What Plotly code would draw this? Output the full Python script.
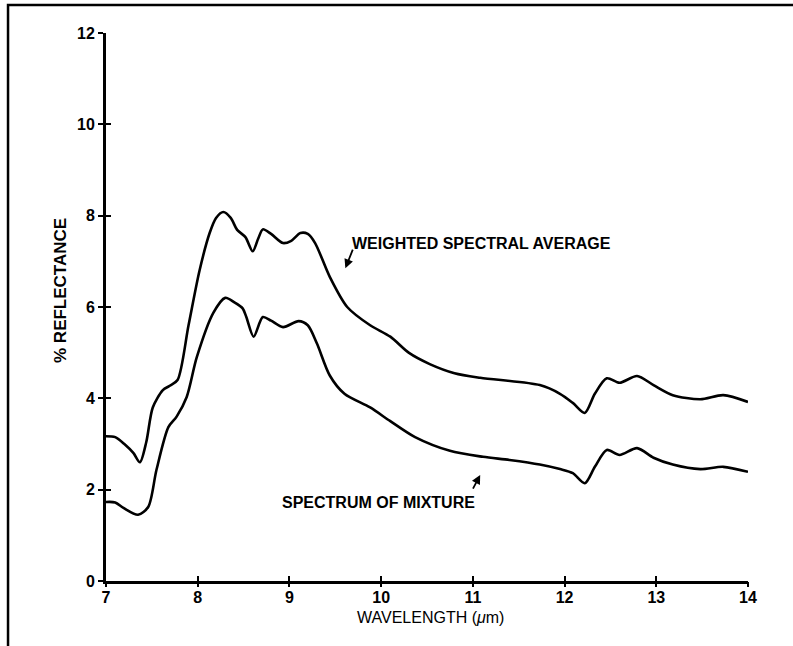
import plotly.graph_objects as go

# Weighted spectral average (upper curve)
wsa_x = [7.0, 7.1, 7.2, 7.3, 7.37, 7.44, 7.51, 7.62, 7.7, 7.78, 7.9, 8.02, 8.13, 8.2, 8.28, 8.36, 8.43, 8.52, 8.6,
         8.66, 8.71, 8.8, 8.93, 9.02, 9.12, 9.2, 9.28, 9.44, 9.63, 9.88, 10.1, 10.3, 10.53, 10.8, 11.08, 11.73,
         11.95, 12.09, 12.22, 12.33, 12.46, 12.6, 12.79, 12.97, 13.18, 13.48, 13.73, 14.0]
wsa_y = [3.17, 3.15, 3.0, 2.8, 2.6, 3.05, 3.8, 4.18, 4.28, 4.4, 5.6, 6.8, 7.62, 7.95, 8.08, 7.95, 7.69, 7.53, 7.22,
         7.5, 7.7, 7.6, 7.4, 7.45, 7.62, 7.6, 7.4, 6.66, 6.0, 5.6, 5.35, 5.0, 4.75, 4.55, 4.45, 4.29,
         4.1, 3.9, 3.68, 4.1, 4.44, 4.34, 4.49, 4.29, 4.07, 3.98, 4.07, 3.92]

# Spectrum of mixture (lower curve)
som_x = [7.0, 7.1, 7.19, 7.35, 7.46, 7.55, 7.68, 7.77, 7.88, 7.99, 8.17, 8.3, 8.4, 8.49, 8.53, 8.61, 8.71,
         8.8, 8.93, 9.1, 9.2, 9.3, 9.44, 9.6, 9.88, 10.1, 10.37, 10.75, 11.11, 11.4, 11.73, 11.95, 12.09, 12.22,
         12.33, 12.46, 12.6, 12.79, 12.97, 13.18, 13.48, 13.73, 14.0]
som_y = [1.73, 1.72, 1.6, 1.45, 1.62, 2.43, 3.37, 3.6, 4.03, 4.9, 5.87, 6.2, 6.1, 5.97, 5.78, 5.35, 5.78,
         5.7, 5.56, 5.69, 5.6, 5.2, 4.5, 4.1, 3.8, 3.5, 3.15, 2.85, 2.72, 2.65, 2.55, 2.45, 2.36, 2.14,
         2.5, 2.87, 2.76, 2.91, 2.7, 2.55, 2.45, 2.5, 2.39]

x_ticks = [7, 8, 9, 10, 11, 12, 13, 14]
y_ticks = [0, 2, 4, 6, 8, 10, 12]

FONT = "Liberation Sans"

fig = go.Figure()
for xs, ys in [(wsa_x, wsa_y), (som_x, som_y)]:
    fig.add_trace(go.Scatter(x=xs, y=ys, mode="lines",
                             line=dict(color="black", width=2.6, shape="spline", smoothing=0.8),
                             showlegend=False, hoverinfo="skip"))

fig.update_layout(
    width=793, height=646,
    margin=dict(l=106, r=45, t=33, b=65),
    paper_bgcolor="white", plot_bgcolor="white",
    xaxis=dict(range=[7, 14], tickvals=x_ticks, ticktext=[str(v) for v in x_ticks],
               tickfont=dict(family=FONT, size=16, color="black", weight="bold"),
               showgrid=False, zeroline=False, showline=True, linecolor="black", linewidth=3,
               ticks="inside", ticklen=5, tickwidth=2, tickcolor="black"),
    yaxis=dict(range=[0, 12], tickvals=y_ticks, ticktext=[str(v) for v in y_ticks],
               tickfont=dict(family=FONT, size=16, color="black", weight="bold"),
               showgrid=False, zeroline=False, showline=True, linecolor="black", linewidth=3,
               ticks="outside", ticklen=5, tickwidth=2, tickcolor="black"),
    xaxis2=dict(range=[7, 14], overlaying="x", tickvals=x_ticks, showticklabels=False, ticks="outside",
                ticklen=5, tickwidth=2, tickcolor="black", showgrid=False, zeroline=False, showline=False,
                anchor="y"),
    yaxis2=dict(range=[0, 12], overlaying="y", tickvals=y_ticks, showticklabels=False, ticks="inside",
                ticklen=5, tickwidth=2, tickcolor="black", showgrid=False, zeroline=False, showline=False,
                anchor="x", side="left"),
    shapes=[dict(type="rect", xref="paper", yref="paper", x0=-0.1526, x1=1.11, y0=-0.14, y1=1.051,
                 line=dict(color="black", width=2.5), fillcolor="rgba(0,0,0,0)", layer="below")],
    annotations=[
        dict(x=0.506, y=-0.0675, xref="paper", yref="paper", text="WAVELENGTH (<i>μ</i>m)", showarrow=False,
             xanchor="center", yanchor="middle", font=dict(family=FONT, size=16, color="black")),
        dict(x=-0.0717, y=0.531, xref="paper", yref="paper", text="% REFLECTANCE", showarrow=False,
             textangle=-90, xanchor="center", yanchor="middle",
             font=dict(family=FONT, size=17, color="black", weight="bold")),
        dict(x=9.66, y=7.4, xref="x", yref="y", text="WEIGHTED SPECTRAL AVERAGE", showarrow=False,
             xanchor="left", yanchor="middle", font=dict(family=FONT, size=16, color="black", weight="bold")),
        dict(x=8.9, y=1.73, xref="x", yref="y", text="SPECTRUM OF MIXTURE", showarrow=False,
             xanchor="left", yanchor="middle", font=dict(family=FONT, size=16, color="black", weight="bold")),
        dict(x=9.61, y=6.85, xref="x", yref="y", ax=8, ay=-20, text="", showarrow=True,
             arrowhead=2, arrowsize=1, arrowwidth=1.8, arrowcolor="black"),
        dict(x=11.08, y=2.32, xref="x", yref="y", ax=-8, ay=15, text="", showarrow=True,
             arrowhead=2, arrowsize=1, arrowwidth=1.8, arrowcolor="black"),
    ],
)
# invisible trace to activate overlay axes (tick marks crossing the axis lines)
fig.add_trace(go.Scatter(x=[7], y=[0], xaxis="x2", yaxis="y2", mode="markers",
                         marker=dict(opacity=0), showlegend=False, hoverinfo="skip"))

fig.write_html("out.html")
